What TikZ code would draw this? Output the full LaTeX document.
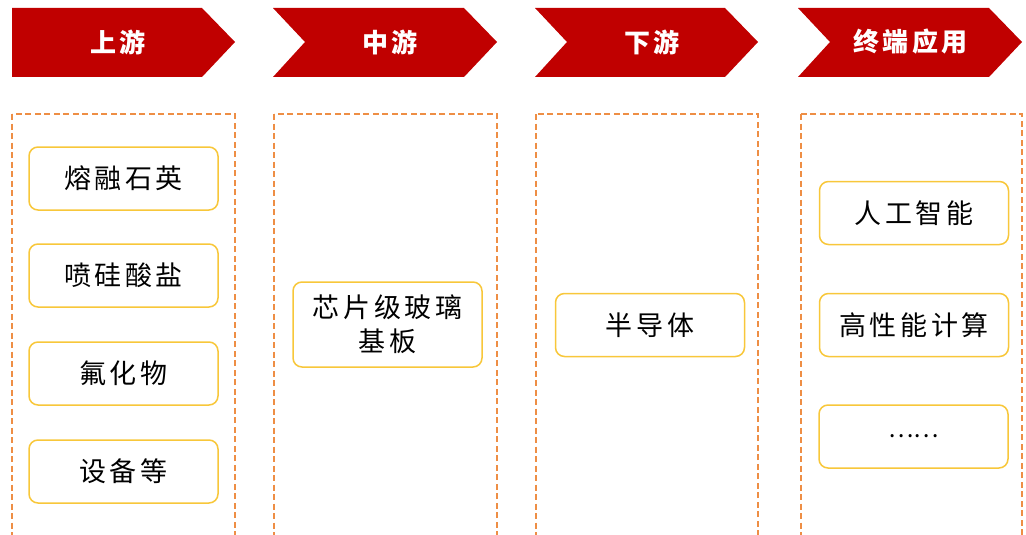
\documentclass[tikz,border=0pt]{standalone}
\usepackage{fontspec}
\setmainfont{Noto Sans CJK SC}
\newfontfamily\cjksp[LetterSpace=13]{Noto Sans CJK SC}
\definecolor{hdr}{HTML}{C00000}
\definecolor{dsh}{HTML}{EE8E45}
\definecolor{ylw}{HTML}{F8C73A}
\tikzset{
  hdrshape/.style={fill=hdr, draw=none},
  hdrtext/.style={text=white, font=\cjksp\fontsize{26}{29}\selectfont\bfseries},
  colbox/.style={draw=dsh, line width=1.6pt, dash pattern=on 6pt off 3.5pt},
  item/.style={draw=ylw, line width=1.5pt, rounded corners=9pt, minimum width=189pt, minimum height=63pt, fill=white, align=center, font=\cjksp\fontsize{27}{34}\selectfont, text=black},
}
\begin{document}
\begin{tikzpicture}[x=1pt,y=-1pt]
\useasboundingbox (0,0) rectangle (1026,535);
\clip (0,0) rectangle (1026,535);
% headers
\fill[hdrshape] (12,8) -- (202,8) -- (235,42) -- (202,77) -- (12,77) -- cycle;
\fill[hdrshape] (273,8) -- (464,8) -- (497,42) -- (464,77) -- (273,77) -- (305,42) -- cycle;
\fill[hdrshape] (535,8) -- (725,8) -- (758,42) -- (725,77) -- (535,77) -- (567,42) -- cycle;
\fill[hdrshape] (798,8) -- (989,8) -- (1022,42) -- (989,77) -- (798,77) -- (830,42) -- cycle;
\node[hdrtext] (h1) at (118,42) {上游};
\node[hdrtext] (h2) at (390,42) {中游};
\node[hdrtext] (h3) at (652,42) {下游};
\node[hdrtext] (h4) at (910.5,42) {终端应用};
% column boxes
\draw[colbox] (12,114) rectangle (235,537);
\draw[colbox] (274,114) rectangle (497,537);
\draw[colbox] (536,114) rectangle (758,537);
\draw[colbox] (801,114) rectangle (1022,537);
% items
\node[item] (a1) at (123.5,178.5) {熔融石英};
\node[item] (a2) at (123.5,275.5) {喷硅酸盐};
\node[item] (a3) at (123.5,373.5) {氟化物};
\node[item] (a4) at (123.5,471.5) {设备等};
\node[item, minimum height=85pt] (b1) at (387.5,324.5) {芯片级玻璃\\基板};
\node[item] (c1) at (650,325) {半导体};
\node[item] (d1) at (914,213) {人工智能};
\node[item] (d2) at (914,325) {高性能计算};
\node[item, font=\fontsize{24}{28}\selectfont] (d3) at (913.5,436.5) {……};
\end{tikzpicture}
\end{document}
